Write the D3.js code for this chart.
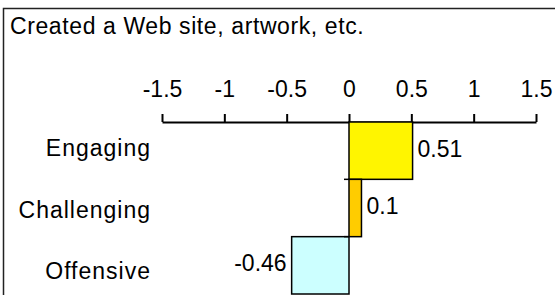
<!DOCTYPE html>
<html>
<head>
<meta charset="utf-8">
<script src="https://cdn.jsdelivr.net/npm/d3@7"></script>
<style>
  html, body { margin: 0; padding: 0; background: #fff; }
  svg { display: block; }
  text { font-family: "Liberation Sans", Arial, sans-serif; fill: #000; }
</style>
</head>
<body>
<svg id="chart" width="555" height="295"></svg>
<script>
const title = "Created a Web site, artwork, etc.";
const categories = ["Engaging", "Challenging", "Offensive"];
const values = [0.51, 0.1, -0.46];
const colors = ["#FFF500", "#FFCC00", "#CCFFFF"];
const tickValues = [-1.5, -1, -0.5, 0, 0.5, 1, 1.5];
const tickLabels = ["-1.5", "-1", "-0.5", "0", "0.5", "1", "1.5"];

const svg = d3.select("#chart");
const fontSize = 23;

// outer frame (cropped on right and bottom)
svg.append("rect")
  .attr("x", 3.5).attr("y", 8.5)
  .attr("width", 700).attr("height", 500)
  .attr("fill", "#fff").attr("stroke", "#222").attr("stroke-width", 1.5);

svg.append("text")
  .attr("x", 10).attr("y", 34)
  .attr("font-size", fontSize)
  .attr("letter-spacing", 0.6)
  .text(title);

const x = d3.scaleLinear().domain([-1.5, 1.5]).range([162, 536]);
const y = d3.scaleBand().domain(categories).range([122, 294]).padding(0);
// category labels sit on a slightly wider spacing than the bars
const yLabel = d3.scaleBand().domain(categories).range([117, 302]).padding(0);

// x axis on top
const xAxis = d3.axisTop(x)
  .tickValues(tickValues)
  .tickFormat((d, i) => tickLabels[i])
  .tickSizeInner(8).tickSizeOuter(0).tickPadding(17);
const gx = svg.append("g").attr("transform", `translate(0,${y.range()[0]})`).call(xAxis);
gx.select(".domain").attr("stroke", "#000").attr("stroke-width", 2);
gx.selectAll(".tick line").attr("stroke", "#000").attr("stroke-width", 2);
gx.selectAll(".tick text").attr("font-size", fontSize)
  .attr("font-family", "Liberation Sans, Arial, sans-serif").attr("fill", "#000");

// bars
svg.selectAll("rect.bar")
  .data(values)
  .enter().append("rect")
  .attr("class", "bar")
  .attr("x", d => Math.min(x(0), x(d)))
  .attr("y", (d, i) => y(categories[i]))
  .attr("width", d => Math.abs(x(d) - x(0)))
  .attr("height", y.bandwidth())
  .attr("fill", (d, i) => colors[i])
  .attr("stroke", "#000").attr("stroke-width", 1.5);

// category boundary ticks at zero
svg.selectAll("line.ctick")
  .data(categories.slice(1))
  .enter().append("line")
  .attr("class", "ctick")
  .attr("x1", x(0) - 5).attr("x2", x(0))
  .attr("y1", d => y(d)).attr("y2", d => y(d))
  .attr("stroke", "#000").attr("stroke-width", 1.5);

// category labels
svg.selectAll("text.cat")
  .data(categories)
  .enter().append("text")
  .attr("class", "cat")
  .attr("x", 151)
  .attr("y", d => yLabel(d) + yLabel.bandwidth() / 2)
  .attr("dy", "0.35em")
  .attr("text-anchor", "end")
  .attr("letter-spacing", 1)
  .attr("font-size", fontSize)
  .text(d => d);

// value labels
svg.selectAll("text.val")
  .data(values)
  .enter().append("text")
  .attr("class", "val")
  .attr("x", d => d >= 0 ? x(d) + 5 : x(d) - 5)
  .attr("y", (d, i) => y(categories[i]) + y.bandwidth() / 2 - 2)
  .attr("dy", "0.35em")
  .attr("text-anchor", d => d >= 0 ? "start" : "end")
  .attr("font-size", fontSize)
  .text(d => String(d));
</script>
</body>
</html>
